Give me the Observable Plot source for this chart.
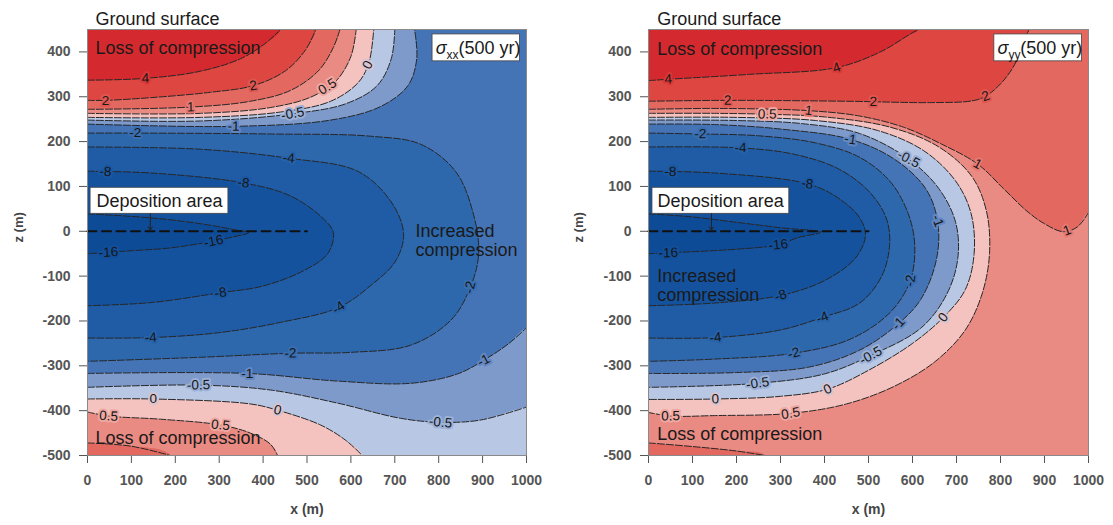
<!DOCTYPE html>
<html>
<head>
<meta charset="utf-8">
<script src="https://cdn.jsdelivr.net/npm/d3@7"></script>
<script src="https://cdn.jsdelivr.net/npm/@observablehq/plot@0.6"></script>
<style>
html,body{margin:0;padding:0;background:#fff;}
#wrap{display:flex;flex-direction:row;width:1113px;height:525px;overflow:hidden;}
#wrap svg{display:block;}
</style>
</head>
<body>
<div id="wrap"></div>
<script>
// ---------- levels, colours, ticks ----------
const levels = [-16, -8, -4, -2, -1, -0.5, 0, 0.5, 1, 2, 4];
const bandColors = ["#0e4b97","#15529e","#1f5ca5","#2d67ac","#4574b6","#7e9acb","#b8c7e3","#f4c3bf","#e98a83","#e26860","#dd4641","#d42a2f"];
const xTicks = [0,100,200,300,400,500,600,700,800,900,1000];
const zTicks = [-500,-400,-300,-200,-100,0,100,200,300,400];
const depoLine = [[0,0],[500,0]];

// ---------- sigma_xx contours [x (m), z (m)] ----------
const sxx_c4t  = [[0,337],[132,341],[257,357],[349,385],[405,419],[440,450]];
const sxx_c2t  = [[0,292],[41,292],[144,298],[280,310],[378,325],[451,358],[497,405],[520,450]];
const sxx_c1t  = [[0,272],[235,277],[371,290],[462,314],[526,358],[560,410],[575,450]];
const sxx_c05t = [[0,263],[257,263],[417,276],[508,299],[565,334],[600,390],[612,450]];
const sxx_c0t  = [[0,254],[257,254],[440,266],[554,290],[617,332],[641,376],[652,450]];
const sxx_m05t = [[0,248],[257,246],[467,262],[590,285],[660,325],[692,385],[700,450]];
const sxx_m1t  = [[0,239],[333,234],[554,248],[667,278],[730,325],[750,385],[745,450]];
const sxx_m2   = [[0,219],[109,219],[417,217],[645,212],[759,194],[838,134],[877,46],[891,-50],[870,-130],[827,-199],[736,-254],[599,-270],[462,-272],[257,-281],[0,-290]];
const sxx_m4   = [[0,188],[257,183],[458,163],[615,134],[690,68],[720,-5],[702,-66],[645,-121],[572,-170],[440,-203],[300,-226],[144,-237],[0,-238]];
const sxx_m8   = [[0,134],[144,130],[355,108],[462,79],[535,30],[560,-3],[547,-50],[492,-88],[400,-122],[303,-137],[144,-159],[0,-166]];
const sxx_m16  = [[0,39],[144,30],[257,17],[333,4],[367,-3],[325,-14],[287,-22],[190,-37],[105,-43],[0,-50]];
const sxx_m1b  = [[0,-317],[364,-317],[569,-334],[736,-339],[843,-318],[902,-288],[960,-250],[1000,-215]];
const sxx_m05b = [[0,-348],[253,-343],[417,-354],[569,-383],[713,-417],[804,-426],[895,-421],[1000,-392]];
const sxx_c0b  = [[0,-374],[150,-374],[371,-385],[433,-399],[531,-432],[588,-466],[626,-500]];
const sxx_c05b = [[0,-403],[48,-412],[166,-419],[303,-432],[371,-450],[417,-475],[433,-500]];
const sxx_c1b  = [[0,-472],[98,-479],[189,-500]];
const sxx_labels = [[4,132,341],[2,41,292],[2,378,323],[1,235,277],[0.5,542,330],[0,633,374],[-0.5,467,263],[-1,333,234],[-2,109,219],[-4,458,163],[-8,41,134],[-8,355,108],[-16,287,-21],[-16,48,-50],[-8,303,-137],[-4,572,-170],[-4,144,-237],[-2,462,-272],[-2,856,-121],[-1,364,-317],[-1,902,-288],[-0.5,253,-343],[-0.5,804,-426],[0,150,-374],[0,433,-399],[0.5,48,-414],[0.5,303,-432]];

// ---------- sigma_yy contours ----------
const syy_c4t  = [[0,336],[45,339],[230,350],[427,365],[527,400],[595,440],[614,450]];
const syy_c2t  = [[0,290],[180,292],[450,290],[643,287],[736,291],[766,301],[805,334],[836,379],[852,423],[865,450]];
const syy_c1t  = [[0,272],[160,274],[364,269],[480,257],[580,232],[665,195],[748,150],[807,95],[860,45],[898,18],[943,-1],[975,10],[1000,42]];
const syy_c1b  = [[0,-472],[100,-480],[200,-490],[265,-500]];
const syy_c05  = [[0,263],[150,263],[270,261],[400,255],[550,232],[660,188],[735,122],[768,45],[775,-50],[758,-140],[720,-220],[652,-290],[560,-345],[450,-385],[323,-406],[150,-411],[50,-412],[0,-404]];
const syy_c0   = [[0,254],[200,254],[380,247],[520,225],[625,180],[698,112],[733,40],[740,-50],[720,-130],[670,-192],[600,-250],[500,-310],[407,-352],[300,-368],[152,-374],[0,-375]];
const syy_m05  = [[0,248],[200,247],[350,240],[480,218],[591,161],[660,95],[698,20],[703,-60],[678,-140],[620,-215],[505,-277],[400,-318],[248,-339],[0,-348]];
const syy_m1   = [[0,239],[150,238],[300,228],[459,205],[560,160],[630,95],[657,23],[655,-60],[620,-150],[568,-206],[480,-265],[364,-303],[200,-315],[0,-317]];
const syy_m2   = [[0,219],[118,217],[250,213],[380,197],[480,165],[550,110],[590,40],[605,-30],[595,-110],[550,-180],[460,-240],[330,-272],[150,-285],[0,-290]];
const syy_m4   = [[0,188],[209,186],[330,172],[430,140],[500,90],[540,30],[548,-30],[530,-100],[480,-160],[395,-192],[300,-220],[152,-237],[0,-238]];
const syy_m8   = [[0,134],[150,130],[361,106],[430,75],[480,30],[493,-10],[470,-60],[400,-110],[300,-143],[150,-160],[0,-166]];
const syy_m16  = [[0,39],[100,32],[200,20],[300,8],[391,-2],[340,-14],[295,-30],[200,-40],[45,-48],[0,-50]];
const syy_labels = [[4,45,339],[4,427,366],[2,180,292],[2,511,290],[2,766,301],[0.5,270,261],[1,364,268],[1,748,150],[1,952,1],[-2,118,217],[-4,209,186],[-8,50,134],[-8,361,106],[-16,45,-50],[-16,295,-32],[-8,300,-143],[-4,395,-192],[-4,152,-237],[-2,330,-272],[-2,595,-110],[-1,459,208],[-1,657,23],[-1,568,-206],[-0.5,591,161],[-0.5,505,-277],[-0.5,248,-339],[0,670,-192],[0,407,-352],[0,152,-374],[0.5,50,-412],[0.5,323,-406]];

// ---------- annotations [x, z, text] ----------
const sxx_notes = [[18,474,"Ground surface"],[18,408,"Loss of compression"],[18,-461,"Loss of compression"]];
const syy_notes = [[20,474,"Ground surface"],[20,405,"Loss of compression"],[20,-452,"Loss of compression"]];
const sxx_incr = [[747,-20,"Increased\ncompression"]];
const syy_incr = [[20,-120,"Increased\ncompression"]];
const sxx_depoBox = [[7,321,39,97]];
const syy_depoBox = [[9,320,39,97]];
const sxx_depoText = [[164,68,"Deposition area"]];
const syy_depoText = [[164,68,"Deposition area"]];
const depoArrow = [[143,39,2]];
const sigBox = [[786,985,379,439]];

// ---------- panel configuration ----------
const panels = [
  {
    bg: 4, width: 556, marginLeft: 87, marginRight: 30, sub: "xx",
    lines: [
      {pts: sxx_m1b, level: -1, mode: "below", band: 5},
      {pts: sxx_m05b, level: -0.5, mode: "below", band: 6},
      {pts: sxx_c0b, level: 0, mode: "below", band: 7},
      {pts: sxx_c05b, level: 0.5, mode: "below", band: 8},
      {pts: sxx_c1b, level: 1, mode: "below", band: 9},
      {pts: sxx_m1t, level: -1, mode: "above", band: 5},
      {pts: sxx_m05t, level: -0.5, mode: "above", band: 6},
      {pts: sxx_c0t, level: 0, mode: "above", band: 7},
      {pts: sxx_c05t, level: 0.5, mode: "above", band: 8},
      {pts: sxx_c1t, level: 1, mode: "above", band: 9},
      {pts: sxx_c2t, level: 2, mode: "above", band: 10},
      {pts: sxx_c4t, level: 4, mode: "above", band: 11},
      {pts: sxx_m2, level: -2, mode: "left", band: 3},
      {pts: sxx_m4, level: -4, mode: "left", band: 2},
      {pts: sxx_m8, level: -8, mode: "left", band: 1},
      {pts: sxx_m16, level: -16, mode: "left", band: 0}
    ],
    labels: sxx_labels, notes: sxx_notes, incr: sxx_incr, depoBox: sxx_depoBox, depoText: sxx_depoText, zdx: -69
  },
  {
    bg: 8, width: 557, marginLeft: 92, marginRight: 25, sub: "yy",
    lines: [
      {pts: syy_c1t, level: 1, mode: "above", band: 9},
      {pts: syy_c2t, level: 2, mode: "above", band: 10},
      {pts: syy_c4t, level: 4, mode: "above", band: 11},
      {pts: syy_c1b, level: 1, mode: "below", band: 9},
      {pts: syy_c05, level: 0.5, mode: "left", band: 7},
      {pts: syy_c0, level: 0, mode: "left", band: 6},
      {pts: syy_m05, level: -0.5, mode: "left", band: 5},
      {pts: syy_m1, level: -1, mode: "left", band: 4},
      {pts: syy_m2, level: -2, mode: "left", band: 3},
      {pts: syy_m4, level: -4, mode: "left", band: 2},
      {pts: syy_m8, level: -8, mode: "left", band: 1},
      {pts: syy_m16, level: -16, mode: "left", band: 0}
    ],
    labels: syy_labels, notes: syy_notes, incr: syy_incr, depoBox: syy_depoBox, depoText: syy_depoText, zdx: -70
  }
];

const KX = 0.44, KZ = 0.4484;
const FONT = "'Liberation Sans', Arial, Helvetica, sans-serif";

function closePoly(pts, mode) {
  const first = pts[0], last = pts[pts.length - 1];
  const out = pts.slice();
  if (mode === "left") {
    out.push([-80, last[1]], [-80, first[1]]);
  } else {
    const zf = mode === "above" ? 560 : -600;
    if (last[0] >= 999) out.push([1080, last[1]], [1080, zf]);
    else out.push([last[0], zf]);
    out.push([-80, zf], [-80, first[1]]);
  }
  return out;
}

function placeLabels(labels, lines) {
  return labels.map(([level, lx, lz]) => {
    let best = null;
    for (const L of lines) {
      if (L.level !== level) continue;
      for (let i = 0; i < L.pts.length - 1; i++) {
        const [x1, z1] = L.pts[i], [x2, z2] = L.pts[i + 1];
        const ax = (x2 - x1) * KX, az = (z2 - z1) * KZ;
        const px = (lx - x1) * KX, pz = (lz - z1) * KZ;
        let t = (ax * px + az * pz) / (ax * ax + az * az || 1);
        t = Math.max(0, Math.min(1, t));
        const dx = px - t * ax, dz = pz - t * az, d = dx * dx + dz * dz;
        if (!best || d < best.d) best = {d, x: x1 + t * (x2 - x1), z: z1 + t * (z2 - z1), ang: Math.atan2(-az, ax) * 180 / Math.PI};
      }
    }
    let a = best.ang;
    if (a > 90) a -= 180;
    if (a < -90) a += 180;
    const i = levels.indexOf(level);
    const halo = d3.interpolateRgb(bandColors[i], bandColors[i + 1])(0.5);
    return {t: String(level), x: best.x, z: best.z, rotate: a, halo};
  });
}

function makePanel(o) {
  const marks = [];
  marks.push(Plot.frame({fill: bandColors[o.bg], stroke: "none"}));
  for (const L of o.lines) {
    marks.push(Plot.line(closePoly(L.pts, L.mode), {
      x: d => d[0], y: d => d[1], fill: bandColors[L.band], stroke: "none",
      curve: "catmull-rom", clip: true
    }));
  }
  for (const L of o.lines) {
    marks.push(Plot.line(L.pts, {
      x: d => d[0], y: d => d[1], stroke: "#262626", strokeWidth: 1,
      strokeDasharray: "7,2", curve: "catmull-rom", clip: true
    }));
  }
  marks.push(Plot.text(placeLabels(o.labels, o.lines), {
    x: "x", y: "z", text: "t", rotate: "rotate", fontSize: 13.5, fontFamily: FONT,
    fontWeight: "normal", fill: "#161616", stroke: "halo", strokeWidth: 4, paintOrder: "stroke"
  }));
  marks.push(Plot.line(depoLine, {x: d => d[0], y: d => d[1], stroke: "#111", strokeWidth: 2, strokeDasharray: "9,5.5"}));
  // annotations
  marks.push(Plot.text(o.notes, {x: d => d[0], y: d => d[1], text: d => d[2], textAnchor: "start", lineAnchor: "middle", fontSize: 18, fontFamily: FONT, fontWeight: "normal", fill: "#1a1a1a"}));
  marks.push(Plot.text(o.incr, {x: d => d[0], y: d => d[1], text: d => d[2], textAnchor: "start", lineAnchor: "middle", lineHeight: 1.1, fontSize: 18, fontFamily: FONT, fontWeight: "normal", fill: "#1a1a1a"}));
  marks.push(Plot.rect(o.depoBox, {x1: d => d[0], x2: d => d[1], y1: d => d[2], y2: d => d[3], fill: "white", stroke: "#444", strokeWidth: 0.8}));
  marks.push(Plot.text(o.depoText, {x: d => d[0], y: d => d[1], text: d => d[2], textAnchor: "middle", lineAnchor: "middle", fontSize: 18, fontFamily: FONT, fontWeight: "normal", fill: "#1a1a1a"}));
  marks.push(Plot.arrow(depoArrow, {x1: d => d[0], y1: d => d[1], x2: d => d[0], y2: d => d[2], stroke: "#222", strokeWidth: 1, headLength: 6}));
  marks.push(Plot.rect(sigBox, {x1: d => d[0], x2: d => d[1], y1: d => d[2], y2: d => d[3], fill: "white", stroke: "#444", strokeWidth: 0.8}));
  marks.push(Plot.text(["σ"], {x: 793, y: 408, textAnchor: "start", lineAnchor: "middle", fontSize: 18, fontStyle: "italic", fontFamily: FONT, fontWeight: "normal", fill: "#1a1a1a"}));
  marks.push(Plot.text([o.sub], {x: 818, y: 393, textAnchor: "start", lineAnchor: "middle", fontSize: 12, fontFamily: FONT, fontWeight: "normal", fill: "#1a1a1a"}));
  marks.push(Plot.text(["(500 yr)"], {x: 845, y: 408, textAnchor: "start", lineAnchor: "middle", fontSize: 18, fontFamily: FONT, fontWeight: "normal", fill: "#1a1a1a"}));
  // axis titles
  marks.push(Plot.text(["z (m)"], {frameAnchor: "left", dx: o.zdx, rotate: -90, fontSize: 13, fontFamily: FONT, fontWeight: "bold", fill: "#444"}));
  marks.push(Plot.text(["x (m)"], {frameAnchor: "bottom", dy: 58, fontSize: 14, fontFamily: FONT, fontWeight: "bold", fill: "#444"}));
  marks.push(Plot.frame({stroke: "#8a8a8a", strokeWidth: 1}));
  return Plot.plot({
    width: o.width, height: 525,
    marginLeft: o.marginLeft, marginRight: o.marginRight, marginTop: 29, marginBottom: 70,
    x: {domain: [0, 1000], ticks: xTicks, tickSize: 8, tickPadding: 12, tickFormat: d => String(d), label: null},
    y: {domain: [-500, 450], ticks: zTicks, tickSize: 8, tickPadding: 9, tickFormat: d => String(d), label: null},
    color: {type: "identity"},
    style: {fontFamily: FONT, fontSize: "14px", fontWeight: "bold", color: "#555", background: "white", overflow: "visible"},
    marks
  });
}

const wrap = document.getElementById("wrap");
for (const p of panels) wrap.appendChild(makePanel(p));
</script>
</body>
</html>
